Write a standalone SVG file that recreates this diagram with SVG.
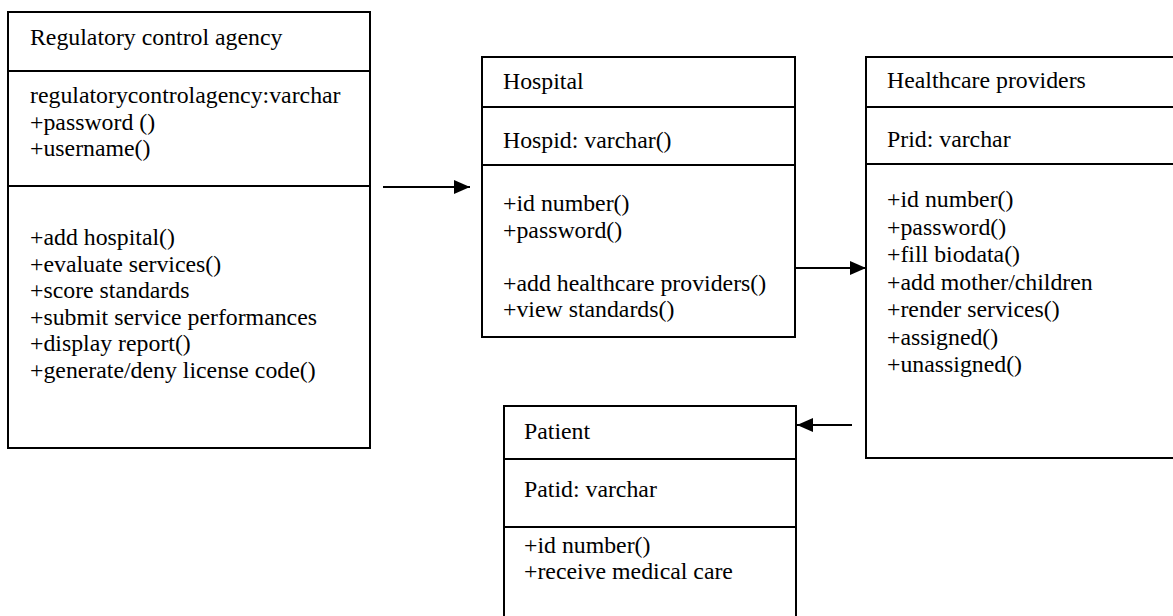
<svg xmlns="http://www.w3.org/2000/svg" width="1173" height="616" viewBox="0 0 1173 616">
  <style>
    .box { fill: #fff; stroke: #000; stroke-width: 2; }
    .div { stroke: #000; stroke-width: 2; }
    .t { font-family: "Liberation Serif", "Times New Roman", serif; font-size: 23.8px; fill: #000; }
    .conn { stroke: #000; stroke-width: 2; fill: none; }
  </style>
  <defs>
    <marker id="arrow" markerUnits="userSpaceOnUse" markerWidth="16" markerHeight="16" viewBox="0 0 16 16" refX="16" refY="8" orient="auto">
      <path d="M0,1 L16,8 L0,15 Z" fill="#000"/>
    </marker>
  </defs>
  <rect width="1173" height="616" fill="#fff"/>

  <g id="regulatory-control-agency">
    <rect class="box" x="8" y="12" width="362" height="436"/>
    <line class="div" x1="8" y1="71" x2="370" y2="71"/>
    <line class="div" x1="8" y1="186" x2="370" y2="186"/>
    <text class="t" x="30" y="45">Regulatory control agency</text>
    <text class="t" x="30" y="103">regulatorycontrolagency:varchar</text>
    <text class="t" x="30" y="129.5">+password ()</text>
    <text class="t" x="30" y="156">+username()</text>
    <text class="t" x="30" y="245">+add hospital()</text>
    <text class="t" x="30" y="271.5">+evaluate services()</text>
    <text class="t" x="30" y="298">+score standards</text>
    <text class="t" x="30" y="324.5">+submit service performances</text>
    <text class="t" x="30" y="351">+display report()</text>
    <text class="t" x="30" y="377.5">+generate/deny license code()</text>
  </g>

  <g id="hospital">
    <rect class="box" x="482" y="57" width="313" height="280"/>
    <line class="div" x1="482" y1="107" x2="795" y2="107"/>
    <line class="div" x1="482" y1="165" x2="795" y2="165"/>
    <text class="t" x="503" y="89">Hospital</text>
    <text class="t" x="503" y="148">Hospid: varchar()</text>
    <text class="t" x="503" y="211">+id number()</text>
    <text class="t" x="503" y="237.5">+password()</text>
    <text class="t" x="503" y="290.5">+add healthcare providers()</text>
    <text class="t" x="503" y="317">+view standards()</text>
  </g>

  <g id="healthcare-providers">
    <rect class="box" x="866" y="57" width="312" height="401"/>
    <line class="div" x1="866" y1="107" x2="1178" y2="107"/>
    <line class="div" x1="866" y1="164" x2="1178" y2="164"/>
    <text class="t" x="887" y="88">Healthcare providers</text>
    <text class="t" x="887" y="147">Prid: varchar</text>
    <text class="t" x="887" y="207">+id number()</text>
    <text class="t" x="887" y="234.5">+password()</text>
    <text class="t" x="887" y="262">+fill biodata()</text>
    <text class="t" x="887" y="289.5">+add mother/children</text>
    <text class="t" x="887" y="317">+render services()</text>
    <text class="t" x="887" y="344.5">+assigned()</text>
    <text class="t" x="887" y="372">+unassigned()</text>
  </g>

  <g id="patient">
    <rect class="box" x="504" y="406" width="292" height="220"/>
    <line class="div" x1="504" y1="459" x2="796" y2="459"/>
    <line class="div" x1="504" y1="527" x2="796" y2="527"/>
    <text class="t" x="524" y="439">Patient</text>
    <text class="t" x="524" y="497">Patid: varchar</text>
    <text class="t" x="524" y="553">+id number()</text>
    <text class="t" x="524" y="579">+receive medical care</text>
  </g>

  <g id="connectors">
    <line class="conn" x1="383" y1="187" x2="470" y2="187" marker-end="url(#arrow)"/>
    <line class="conn" x1="795" y1="268" x2="866" y2="268" marker-end="url(#arrow)"/>
    <line class="conn" x1="852" y1="425" x2="797" y2="425" marker-end="url(#arrow)"/>
  </g>
</svg>
